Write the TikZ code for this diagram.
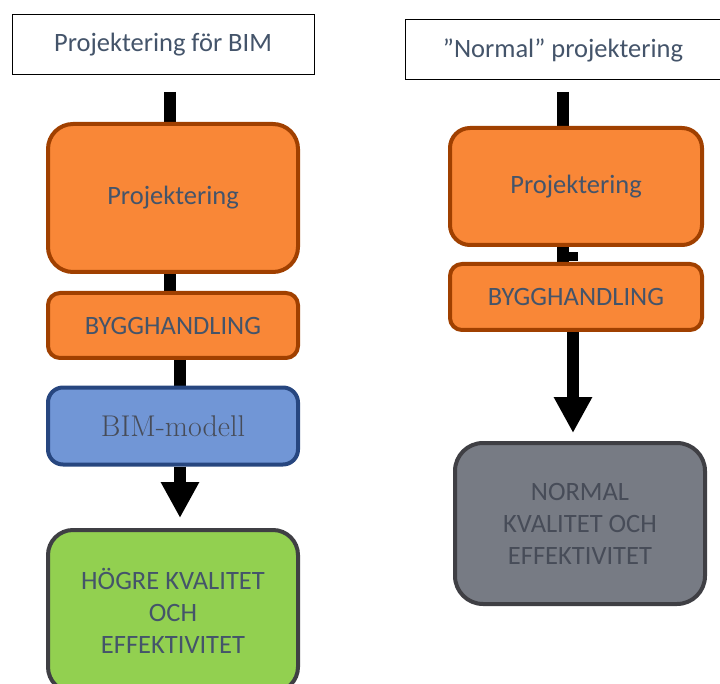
\documentclass[tikz,border=0pt]{standalone}
\usepackage{fontspec}
\setmainfont{Carlito}
\usetikzlibrary{arrows.meta}
\definecolor{txt}{HTML}{44546A}
\definecolor{orfill}{HTML}{F98737}
\definecolor{ordraw}{HTML}{A04000}
\definecolor{blfill}{HTML}{7196D6}
\definecolor{bldraw}{HTML}{27467F}
\definecolor{grfill}{HTML}{92D050}
\definecolor{dkdraw}{HTML}{3F3F44}
\definecolor{gyfill}{HTML}{777B84}
\definecolor{gytxt}{HTML}{474C58}
\tikzset{
  x=1pt,y=-1pt,
  titlebox/.style={draw=black,line width=1pt,fill=white,text=txt,font=\fontsize{26.5}{30}\selectfont},
  boxbase/.style={line width=4pt,text=txt,font=\fontsize{26.5}{32}\selectfont,align=center,inner sep=0pt},
  orbox/.style={boxbase,draw=ordraw,fill=orfill},
  blbox/.style={boxbase,draw=bldraw,fill=blfill},
  grbox/.style={boxbase,draw=dkdraw,fill=grfill},
  gybox/.style={boxbase,draw=dkdraw,fill=gyfill,text=gytxt},
  conn/.style={line width=12pt,black},
  bigarrow/.style={line width=12pt,black,-{Triangle[length=36pt,width=36pt]}},
}
\begin{document}
\begin{tikzpicture}
\useasboundingbox (0,0) rectangle (720,684);
% left column
\node[titlebox,minimum width=302pt,minimum height=60pt] (lt) at (163,45) {Projektering för BIM};
\coordinate (lc1) at (170,92);
\coordinate (lc2) at (170,126);
\draw[conn] (lc1) -- (lc2);
\draw[conn] (170,270) -- (170,295);
\draw[conn] (180,356) -- (180,390);
\node[orbox,rounded corners=25pt,minimum width=250pt,minimum height=148pt] (lp) at (173,198) {Projektering};
\node[orbox,rounded corners=12pt,minimum width=250pt,minimum height=65pt] (lb) at (173,325.5) {BYGGHANDLING};
\node[blbox,rounded corners=15pt,minimum width=250pt,minimum height=77pt,text=gytxt] (lm) at (173,426) {\fontspec{Latin Modern Roman}\fontsize{30}{34}\selectfont BIM-modell};
\node[grbox,rounded corners=25pt,minimum width=250pt,minimum height=162pt] (lg) at (173,611) {HÖGRE KVALITET\\OCH\\EFFEKTIVITET};
\coordinate (la) at (180,518);
\draw[bigarrow] (lm.south -| la) -- (la);
% right column
\node[titlebox,minimum width=316pt,minimum height=60pt] (rt) at (563,50) {”Normal” projektering};
\draw[conn] (563,92) -- (563,130);
\draw[conn] (563,243) -- (563,266);
\draw[line width=9pt,black] (566,256.5) -- (578,256.5);
\node[orbox,rounded corners=20pt,minimum width=252pt,minimum height=117pt] (rp) at (576,186.5) {Projektering};
\node[orbox,rounded corners=12pt,minimum width=252pt,minimum height=66pt] (rb) at (576,297) {BYGGHANDLING};
\coordinate (ra) at (573,433);
\draw[bigarrow] (rb.south -| ra) -- (ra);
\node[gybox,rounded corners=28pt,minimum width=250pt,minimum height=161pt] (rg) at (580,523.5) {NORMAL\\KVALITET OCH\\EFFEKTIVITET};
\end{tikzpicture}
\end{document}
